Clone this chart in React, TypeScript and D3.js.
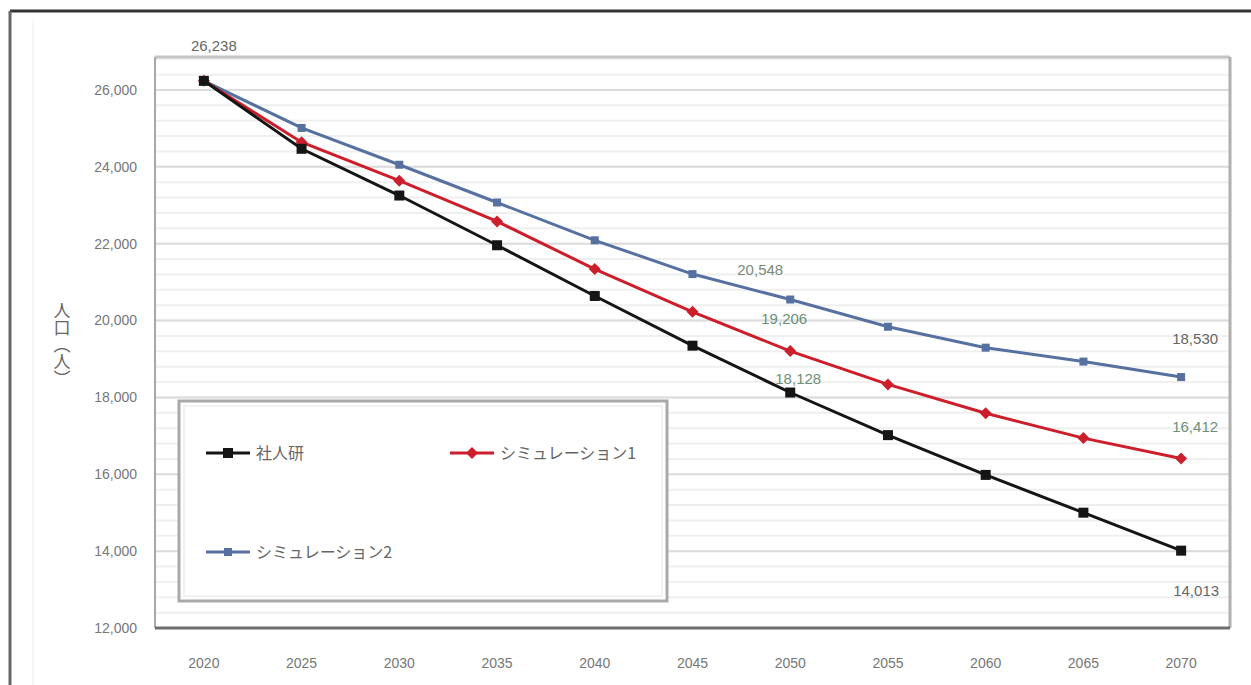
import React from "react";
import * as d3 from "d3";

const years = ["2020", "2025", "2030", "2035", "2040", "2045", "2050", "2055", "2060", "2065", "2070"];
const shajinken = [26238, 24470, 23254, 21960, 20640, 19347, 18128, 17019, 15984, 15001, 14013];
const sim1 = [26238, 24640, 23641, 22581, 21339, 20227, 19206, 18338, 17588, 16941, 16412];
const sim2 = [26238, 25013, 24055, 23072, 22089, 21210, 20548, 19839, 19295, 18933, 18530];
const yTicks = [12000, 14000, 16000, 18000, 20000, 22000, 24000, 26000];
const seriesNames = ["社人研", "シミュレーション1", "シミュレーション2"];

const W = 1251, H = 685;
const L = 155, R = 1230, T = 57, B = 628;
const FONT = "'Liberation Sans Narrow', 'Liberation Sans', Arial, sans-serif";

const colors = ["#151515", "#cc1f2b", "#5670a0"];

export default function App() {
  const x = d3.scalePoint<string>().domain(years).range([L, R]).padding(0.5);
  const y = d3.scaleLinear().domain([12000, 26000]).range([B, 90]);
  const line = d3.line<number>().x((_, i) => x(years[i]) as number).y((v) => y(v));
  const fmt = d3.format(",");
  const black = { name: seriesNames[0], values: shajinken, color: colors[0], marker: "square" };
  const red = { name: seriesNames[1], values: sim1, color: colors[1], marker: "diamond" };
  const blue = { name: seriesNames[2], values: sim2, color: colors[2], marker: "plus" };
  const series = [blue, red, black];
  const minor = d3.range(12000, 26801, 400);

  const labels = [
    { s: 2, i: 0, dx: 10, dy: -35, c: "#666" },
    { s: 0, i: 6, dx: 8, dy: -14, c: "#6d8f78" },
    { s: 1, i: 6, dx: -6, dy: -32, c: "#6d8f78" },
    { s: 2, i: 6, dx: -30, dy: -30, c: "#7a8a78" },
    { s: 2, i: 10, dx: 14, dy: -38, c: "#666" },
    { s: 1, i: 10, dx: 14, dy: -32, c: "#6d8f78" },
    { s: 0, i: 10, dx: 15, dy: 40, c: "#666" },
  ];
  const seriesByIdx = [shajinken, sim1, sim2];

  const drawMarker = (kind: string, cx: number, cy: number, color: string, key: string) => {
    if (kind === "square") return <rect key={key} x={cx - 5} y={cy - 5} width={10} height={10} fill={color} />;
    if (kind === "diamond")
      return <path key={key} d={`M${cx},${cy - 6}L${cx + 6},${cy}L${cx},${cy + 6}L${cx - 6},${cy}Z`} fill={color} />;
    return <rect key={key} x={cx - 4} y={cy - 4} width={8} height={8} fill={color} />;
  };

  const legendItems = [
    { s: black, lx: 206, ly: 453 },
    { s: red, lx: 450, ly: 453 },
    { s: blue, lx: 206, ly: 552 },
  ];

  return (
    <svg width={W} height={H} style={{ position: "absolute", left: 0, top: 0, background: "#fff" }} fontFamily={FONT}>
      <rect x={0} y={0} width={W} height={H} fill="#fff" />
      <line x1={10} x2={W} y1={11} y2={11} stroke="#333" strokeWidth={3} />
      <line x1={10} x2={10} y1={11} y2={H} stroke="#666" strokeWidth={3} />
      <line x1={33} x2={33} y1={20} y2={H} stroke="#eee" strokeWidth={1} />
      {minor.map((v) => (
        <line key={"m" + v} x1={L} x2={R} y1={y(v)} y2={y(v)} stroke="#efefef" strokeWidth={2} />
      ))}
      {yTicks.map((v) => (
        <line key={"g" + v} x1={L} x2={R} y1={y(v)} y2={y(v)} stroke="#dcdcdc" strokeWidth={2} />
      ))}
      <line x1={L} x2={R} y1={T} y2={T} stroke="#c4c4c4" strokeWidth={3} />
      <line x1={L} x2={L} y1={T} y2={B} stroke="#a8a8a8" strokeWidth={2} />
      <line x1={R} x2={R} y1={T} y2={B} stroke="#b0b0b0" strokeWidth={3} />
      <line x1={L} x2={R} y1={B} y2={B} stroke="#6e6e6e" strokeWidth={3} />
      {yTicks.map((v) => (
        <text key={"t" + v} x={137} y={y(v)} dy="0.35em" textAnchor="end" fontSize={14} fill="#777">
          {fmt(v)}
        </text>
      ))}
      {years.map((yr) => (
        <text key={"x" + yr} x={x(yr)} y={668} textAnchor="middle" fontSize={14} fill="#777">
          {yr}
        </text>
      ))}
      <text x={62} y={302} fontSize={17} fill="#666" fontFamily="'Noto Sans CJK JP', sans-serif"
        style={{ writingMode: "vertical-rl" as any }}>
        人口（人）
      </text>
      {series.map((s) => (
        <g key={s.name}>
          <path d={line(s.values) as string} fill="none" stroke={s.color} strokeWidth={3} />
          {s.values.map((v, i) => drawMarker(s.marker, x(years[i]) as number, y(v), s.color, s.name + i))}
        </g>
      ))}
      {labels.map((lb, k) => {
        const v = seriesByIdx[lb.s][lb.i];
        return (
          <text key={"l" + k} x={(x(years[lb.i]) as number) + lb.dx} y={y(v) + lb.dy} dy="0.35em"
            textAnchor="middle" fontSize={15} fill={lb.c}>
            {fmt(v)}
          </text>
        );
      })}
      <g>
        <rect x={179} y={401} width={488} height={200} fill="#fff" stroke="#a9a9a9" strokeWidth={3} />
        <rect x={184} y={406} width={478} height={190} fill="none" stroke="#e6e6e6" strokeWidth={1} />
        {legendItems.map((e, k) => (
          <g key={"lg" + k}>
            <line x1={e.lx} x2={e.lx + 44} y1={e.ly} y2={e.ly} stroke={e.s.color} strokeWidth={3} />
            {drawMarker(e.s.marker, e.lx + 22, e.ly, e.s.color, "lm" + k)}
            <text x={e.lx + 50} y={e.ly} dy="0.35em" fontSize={16} fill="#666" fontFamily="'Noto Sans CJK JP', sans-serif">
              {e.s.name}
            </text>
          </g>
        ))}
      </g>
    </svg>
  );
}
